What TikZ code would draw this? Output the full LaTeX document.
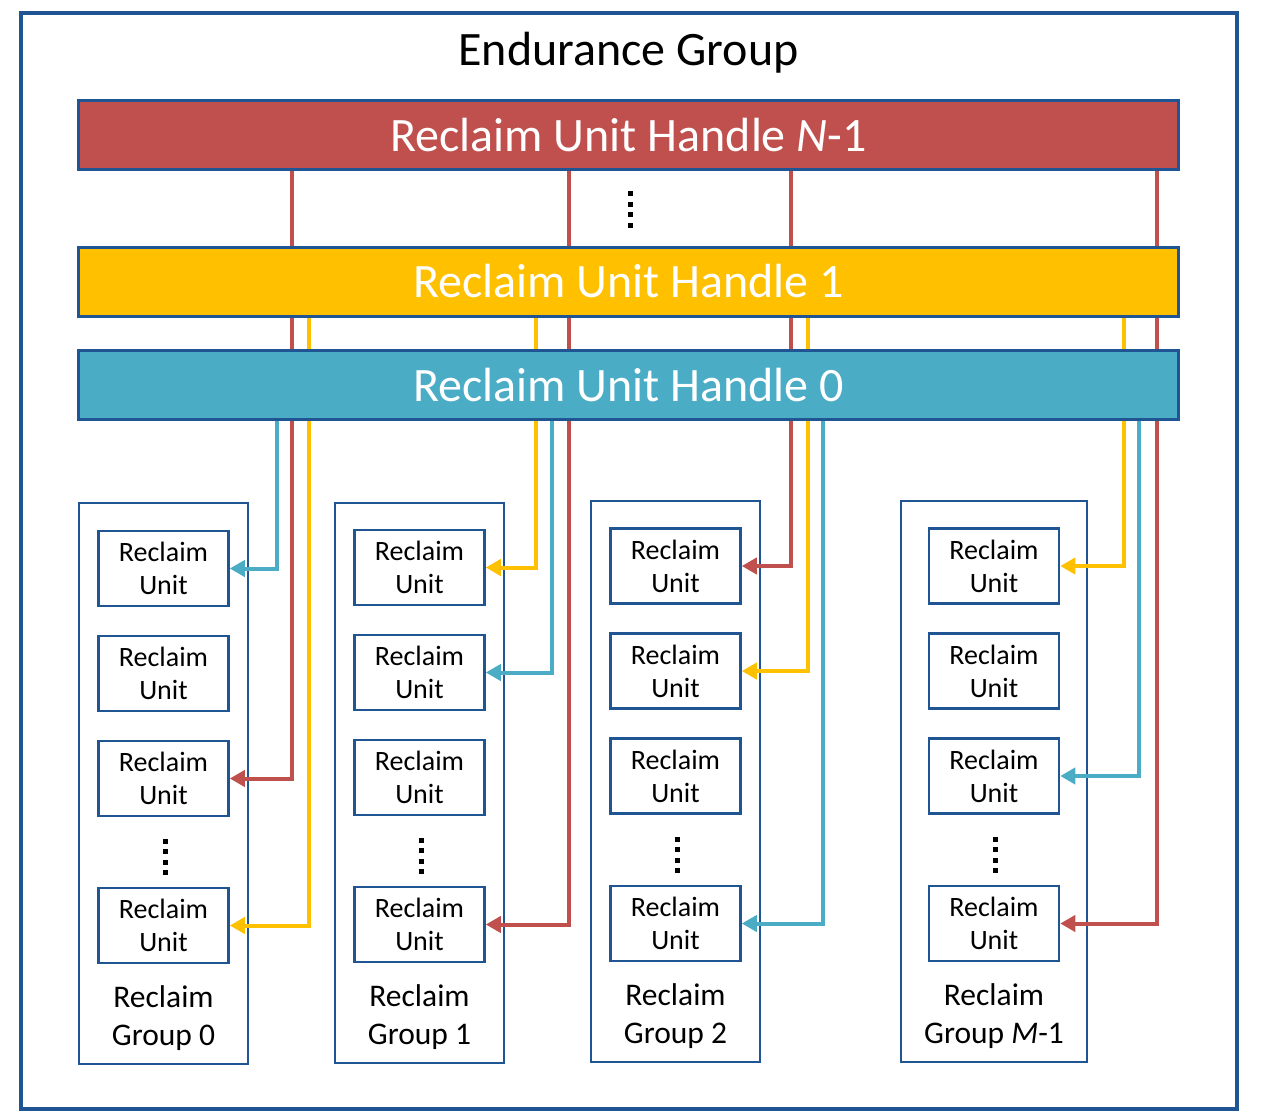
\documentclass[tikz,border=0pt]{standalone}
\usepackage{fontspec}
\setmainfont{Carlito}
\usetikzlibrary{arrows.meta,calc}
\definecolor{frame}{HTML}{1F5592}
\definecolor{rred}{HTML}{C0504D}
\definecolor{ryel}{HTML}{FFC000}
\definecolor{rblu}{HTML}{4BACC6}
\pgfdeclarelayer{bg}
\pgfsetlayers{bg,main}
\tikzset{
  bar/.style={draw=frame, line width=3pt, inner sep=0pt, minimum width=1100pt, minimum height=69pt,
     text=white, font=\fontsize{48}{52}\selectfont},
  unitbox/.style={draw=frame, line width=2.5pt, fill=white, inner sep=0pt, minimum width=130pt, minimum height=75pt,
     align=center, font=\fontsize{28}{33}\selectfont},
  groupbox/.style={draw=frame, line width=2.5pt, inner sep=0pt},
  grouplabel/.style={align=center, font=\fontsize{31.5}{38}\selectfont, inner sep=0pt},
  conn/.style={line width=4pt, -{Triangle[length=15pt,width=16pt]}},
  plain/.style={line width=4pt},
  dot/.style={fill=black}
}
\begin{document}
\begin{tikzpicture}[x=1pt,y=-1pt]
\useasboundingbox (0,0) rectangle (1267,1111);
\node[draw=frame, line width=4pt, inner sep=0pt, minimum width=1216pt, minimum height=1096pt] (eg) at (628.5,560.5) {};
\node[font=\fontsize{48}{52}\selectfont, inner sep=0pt] (title) at (628.5,53) {Endurance Group};
% bars
\node[bar, fill=rred] (hN) at (628.5,135) {Reclaim Unit Handle \textit{N}-1};
\node[bar, fill=ryel] (h1) at (628.5,281.5) {Reclaim Unit Handle 1};
\node[bar, fill=rblu] (h0) at (628.5,385) {Reclaim Unit Handle 0};
% groups
\node[groupbox, minimum width=169pt, minimum height=561pt] (g0) at (163.5,783.5) {};
\node[groupbox, minimum width=169pt, minimum height=560pt] (g1) at (419.5,783) {};
\node[groupbox, minimum width=169pt, minimum height=561pt] (g2) at (675.5,781.5) {};
\node[groupbox, minimum width=186pt, minimum height=561pt] (gM) at (994,781.5) {};
\node[grouplabel] (g0l) at (163.5,1018) {Reclaim\\Group 0};
\node[grouplabel] (g1l) at (419.5,1017) {Reclaim\\Group 1};
\node[grouplabel] (g2l) at (675.5,1016) {Reclaim\\Group 2};
\node[grouplabel] (gMl) at (994,1016) {Reclaim\\Group \textit{M}-1};
% units
\foreach \g/\x/\ya/\yb/\yc/\yd in {g0/163.5/568.5/673.5/778.5/925.5, g1/419.5/567.5/672.5/777.5/924.5, g2/675.5/566/671/776/923.5, gM/994/566/671/776/923.5}{
  \node[unitbox] (\g u1) at (\x,\ya) {Reclaim\\Unit};
  \node[unitbox] (\g u2) at (\x,\yb) {Reclaim\\Unit};
  \node[unitbox] (\g u3) at (\x,\yc) {Reclaim\\Unit};
  \node[unitbox] (\g u5) at (\x,\yd) {Reclaim\\Unit};
}
% dots
\foreach \x/\y in {630.5/193.5, 165.5/841, 421.5/840, 677.5/839, 995.5/839}{
  \foreach \k in {0,1,2,3}{
    \fill (\x-2.5,\y+\k*10.5-2.5) rectangle (\x+2.5,\y+\k*10.5+2.5);
  }
}
% connectors
\begin{pgfonlayer}{bg}
\foreach \x in {292,569,791,1157}{
  \draw[plain, rred] (hN.south -| \x,0) -- (h0.south -| \x,0);
}
\foreach \x in {309,536,808,1124}{
  \draw[plain, ryel] (h1.south -| \x,0) -- (h0.south -| \x,0);
}
\end{pgfonlayer}
% group 0
\draw[conn, rblu] (h0.south -| 277,0) |- (g0u1.east);
\draw[conn, rred] (h0.south -| 292,0) |- (g0u3.east);
\draw[conn, ryel] (h0.south -| 309,0) |- (g0u5.east);
% group 1
\draw[conn, ryel] (h0.south -| 536,0) |- (g1u1.east);
\draw[conn, rblu] (h0.south -| 552,0) |- (g1u2.east);
\draw[conn, rred] (h0.south -| 569,0) |- (g1u5.east);
% group 2
\draw[conn, rred] (h0.south -| 791,0) |- (g2u1.east);
\draw[conn, ryel] (h0.south -| 808,0) |- (g2u2.east);
\draw[conn, rblu] (h0.south -| 823,0) |- (g2u5.east);
% group M-1
\draw[conn, ryel] (h0.south -| 1124,0) |- (gMu1.east);
\draw[conn, rblu] (h0.south -| 1139,0) |- (gMu3.east);
\draw[conn, rred] (h0.south -| 1157,0) |- (gMu5.east);
\end{tikzpicture}
\end{document}
